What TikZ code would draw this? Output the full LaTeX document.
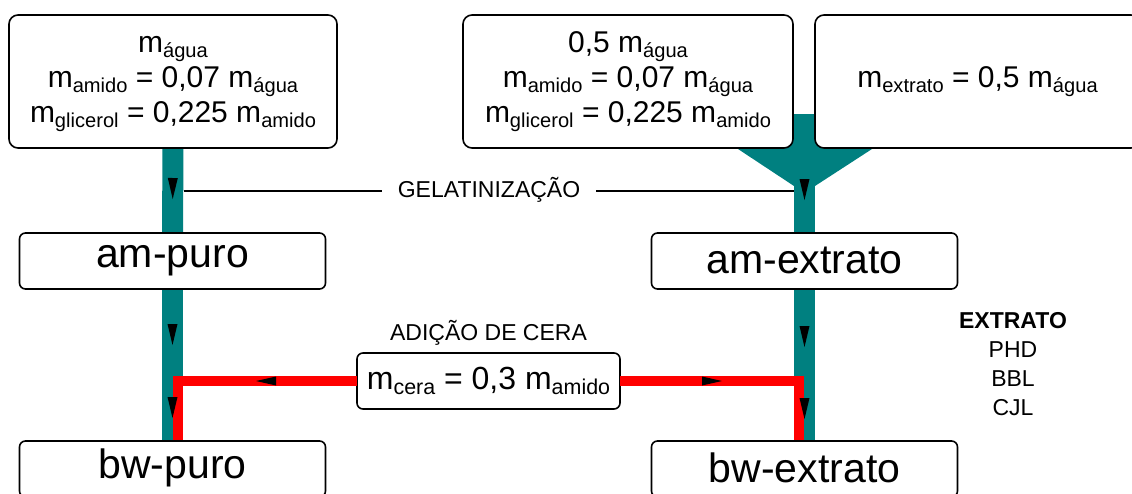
\documentclass[tikz,border=0pt]{standalone}
\usepackage{fontspec}
\setmainfont{Liberation Sans}
\usepackage{graphicx}
\usetikzlibrary{decorations.markings}
\definecolor{tealc}{RGB}{0,128,128}
\definecolor{redc}{RGB}{255,0,0}
\newcommand\lo[1]{\raisebox{-0.17em}{\scalebox{0.67}{#1}}}
\newcommand\tipdn{\fill[black] (0pt,0pt) -- (-21pt,5pt) -- (-21pt,-5pt) -- cycle;}
\newcommand\tiprd{\fill[black] (0pt,0pt) -- (-20pt,4.5pt) -- (-20pt,-4.5pt) -- cycle;}
\pgfdeclarelayer{bg}
\pgfsetlayers{bg,main}
\begin{document}
\begin{tikzpicture}[x=1pt,y=-1pt,
  box/.style={draw=black, line width=1.6pt, fill=white, inner sep=0pt, outer sep=0pt, align=center},
  topbox/.style={box, rounded corners=9pt, minimum height=133pt, font=\fontsize{30}{35}\selectfont},
  stagebox/.style={box, rounded corners=6pt, minimum width=306pt, minimum height=56pt, font=\fontsize{41}{45}\selectfont},
  tealbar/.style={draw=tealc, line width=21pt},
  redline/.style={draw=redc, line width=10.5pt, line join=miter, shorten >=0.8pt},
  tri/.style={postaction={decorate, decoration={markings, mark=at position #1 with {\tipdn}}}},
  rtri/.style={postaction={decorate, decoration={markings, mark=at position #1 with {\tiprd}}}},
  lbl/.style={inner sep=0pt, font=\fontsize{23}{29}\selectfont, align=center}
]
\useasboundingbox (0,0) rectangle (1132,493);

% boxes
\node[topbox, minimum width=328pt] (tl) at (173,81.5)
  {\rule{0pt}{22pt}m\lo{água}\\ m\lo{amido} = 0,07 m\lo{água}\\ m\lo{glicerol} = 0,225 m\lo{amido}};
\node[topbox, minimum width=330pt] (tm) at (628,81.5)
  {\rule{0pt}{22pt}0,5 m\lo{água}\\ m\lo{amido} = 0,07 m\lo{água}\\ m\lo{glicerol} = 0,225 m\lo{amido}};
\node[topbox, minimum width=325pt] (tr) at (977.5,81.5) {m\lo{extrato} = 0,5 m\lo{água}};

\node[stagebox, text height=21pt, text depth=9pt] (amp) at (172.5,261) {am-puro};
\node[stagebox, text height=30pt, text depth=6pt] (ame) at (804.5,261) {am-extrato};
\node[stagebox, text height=24pt, text depth=6pt] (bwp) at (172.5,469) {bw-puro};
\node[stagebox, text height=30pt, text depth=4pt] (bwe) at (804.5,469) {bw-extrato};

\node[box, rounded corners=6pt, minimum width=263pt, minimum height=56pt, font=\fontsize{32}{36}\selectfont]
  (mc) at (488.5,381) {m\lo{cera} = 0,3 m\lo{amido}};

% teal flows (behind boxes)
\coordinate (fun) at (804.5,149);
\begin{pgfonlayer}{bg}
  \fill[tealc] (738,114) -- (872,114) -- (872,149) -- (815,186) -- (794,186) -- (738,149) -- cycle;
  \draw[tealbar] (tl.south) -- (amp.north);
  \draw[tealbar] (amp.south) -- (bwp.north);
  \draw[tealbar] (fun) -- (ame.north);
  \draw[tealbar] (ame.south) -- (bwe.north);
\end{pgfonlayer}

% gelatinizacao
\coordinate (gl) at (184,191);
\coordinate (gr) at (794,191);
\node[lbl, inner xsep=16pt, text height=16.5pt, text depth=4pt] (gel) at (489,191) {GELATINIZAÇÃO};
\draw[line width=1.4pt] (gl) -- (gel.west);
\draw[line width=1.4pt] (gel.east) -- (gr);

% wax addition
\node[lbl, text height=16.5pt, text depth=0pt] (cera) at (488.5,331.75) {ADIÇÃO DE CERA};
\draw[redline, rtri=101pt] (mc.west) -| ([xshift=5.5pt]bwp.north);
\draw[redline, rtri=102pt] (mc.east) -| ([xshift=-5.5pt]bwe.north);

% arrowheads on teal flows
\path[tri=51pt] (tl.south) -- (amp.north);
\path[tri=56pt, tri=129pt] (amp.south) -- (bwp.north);
\path[tri=51pt] (fun) -- (ame.north);
\path[tri=58pt, tri=130pt] (ame.south) -- (bwe.north);

% extract legend
\node[lbl, anchor=north] (ext) at (1013,312.5) {\textbf{EXTRATO}\\ PHD\\ BBL\\ CJL};
\end{tikzpicture}
\end{document}
